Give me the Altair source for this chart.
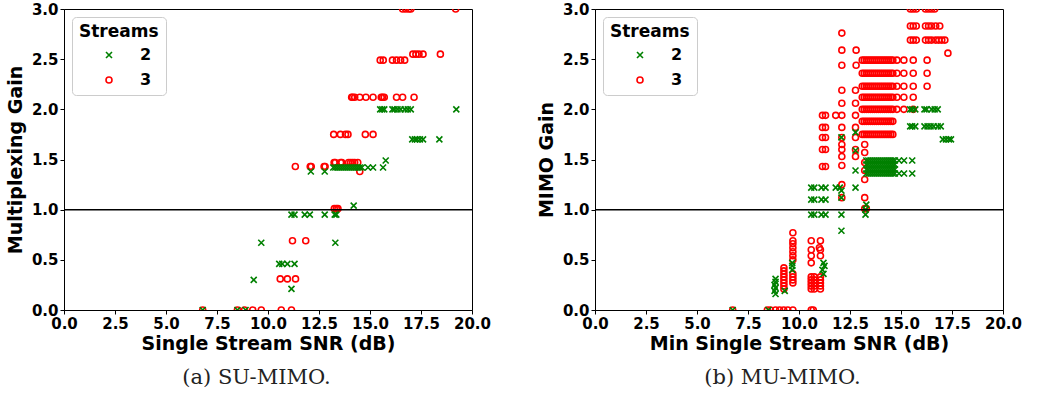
import altair as alt
import pandas as pd

# ---------------- data ----------------
x_ticks = [0.0, 2.5, 5.0, 7.5, 10.0, 12.5, 15.0, 17.5, 20.0]
y_ticks = [0.0, 0.5, 1.0, 1.5, 2.0, 2.5, 3.0]
hline = [1.0]
stream_names = ["2", "3"]
stream_colors = ["green", "red"]

# SU-MIMO, 2 streams: (gain, [SNR values])
su_2_rows = [
    (0.00, [6.8, 8.5, 8.9]),
    (0.21, [11.15]),
    (0.30, [9.3]),
    (0.46, [10.55, 10.7, 10.95, 11.3]),
    (0.67, [9.67, 13.3]),
    (0.95, [11.15, 11.3, 11.8, 12.05, 12.78, 13.27, 13.35]),
    (1.04, [14.2]),
    (1.38, [12.1, 12.78]),
    (1.42, [13.2, 13.3, 13.4, 13.5, 13.6, 13.7, 13.8, 13.9, 14.0, 14.1, 14.2,
            14.3, 14.4, 14.5, 14.6, 14.9, 15.15, 15.64]),
    (1.49, [15.77]),
    (1.70, [17.07, 17.2, 17.3, 17.45, 17.6, 18.4]),
    (2.00, [15.5, 15.6, 15.7, 16.1, 16.2, 16.35, 16.5, 16.7, 16.85, 17.0, 19.23]),
]

# SU-MIMO, 3 streams
su_3_rows = [
    (0.00, [6.8, 8.5, 8.85, 9.25, 9.67, 10.65, 11.15]),
    (0.31, [10.6, 10.95, 11.35]),
    (0.69, [11.2, 11.85]),
    (1.01, [13.25, 13.35, 13.43]),
    (1.38, [14.5]),
    (1.43, [11.34, 12.07, 12.12, 12.75, 12.8]),
    (1.47, [13.24, 13.3, 13.56, 13.62, 13.95, 14.05, 14.15, 14.25, 14.4]),
    (1.75, [13.22, 13.55, 13.8, 13.92, 14.77, 15.15]),
    (2.12, [14.1, 14.15, 14.25, 14.5, 14.8, 15.15, 15.55, 15.62, 15.7, 16.3, 16.6, 17.16]),
    (2.49, [15.5, 15.65, 16.1, 16.3, 16.5, 16.7]),
    (2.55, [17.1, 17.25, 17.4, 17.6, 18.45]),
    (3.00, [16.6, 16.75, 16.9, 17.0, 19.2]),
]

# MU-MIMO dense clusters
mu_green_block = [13.3, 13.4, 13.5, 13.6, 13.7, 13.8, 13.9, 14.0, 14.1, 14.2,
                  14.3, 14.4, 14.5, 14.6, 14.7]
mu_red_block = [13.1, 13.2, 13.3, 13.4, 13.5, 13.6, 13.7, 13.8, 13.9, 14.0,
                14.1, 14.2, 14.3, 14.4, 14.5, 14.6]

# MU-MIMO, 2 streams
mu_2_rows = [
    (0.00, [6.75, 8.5]),
    (0.16, [8.85]), (0.19, [8.8, 9.3]), (0.22, [8.85]), (0.25, [8.8]),
    (0.28, [8.85]), (0.31, [8.85]),
    (0.36, [11.2]), (0.40, [9.67, 11.15]), (0.44, [9.67, 11.25]), (0.47, [9.67, 11.2]),
    (0.79, [12.08]),
    (0.95, [10.6, 10.75, 11.1, 11.3, 12.08, 13.26]),
    (1.00, [13.26]), (1.05, [13.3]),
    (1.10, [10.6, 10.75, 11.1, 11.3]),
    (1.12, [12.08]),
    (1.19, [12.08]),
    (1.22, [10.6, 10.75, 11.1, 11.3, 11.8, 12.0, 12.77]),
    (1.36, mu_green_block + [14.9, 15.15, 15.55]),
    (1.39, [12.77]),
    (1.40, mu_green_block),
    (1.45, mu_green_block),
    (1.49, mu_green_block + [14.9, 15.15, 15.55]),
    (1.59, [12.77]),
    (1.70, [17.05, 17.2, 17.35, 17.45]),
    (1.72, [12.08]),
    (1.77, [12.77]),
    (1.83, [15.45, 15.55, 15.7, 16.15, 16.3, 16.45, 16.6, 16.8, 16.95]),
    (2.00, [15.45, 15.55, 15.7, 16.15, 16.25, 16.5, 16.65, 16.8]),
]

# MU-MIMO, 3 streams
mu_3_rows = [
    (0.00, [6.75, 8.45, 8.6, 8.85, 9.05, 9.25, 9.45, 9.7, 10.6, 10.7]),
    (0.21, [9.26, 10.6, 10.75, 11.05]),
    (0.24, [9.26, 10.6, 10.75, 11.05]),
    (0.27, [9.26, 9.7, 10.6, 10.75, 11.05]),
    (0.30, [9.26, 9.7, 10.6, 10.75, 11.05]),
    (0.33, [9.26, 9.7, 10.6, 10.75, 11.05]),
    (0.36, [9.26, 9.7]),
    (0.39, [9.26]),
    (0.42, [9.26]),
    (0.47, [10.6]),
    (0.50, [9.7]),
    (0.54, [9.7, 10.6, 11.05]),
    (0.58, [9.7]),
    (0.60, [10.6, 11.05]),
    (0.62, [9.7, 11.0]),
    (0.66, [9.7]),
    (0.69, [9.7, 10.6, 11.05]),
    (0.77, [9.7]),
    (1.01, [13.22, 13.3]),
    (1.12, [12.1, 13.22]),
    (1.25, [12.1]),
    (1.30, [13.22]),
    (1.39, [13.22]),
    (1.43, [11.15, 11.3]),
    (1.44, [12.1]),
    (1.47, [13.22]),
    (1.53, [12.1, 12.77]),
    (1.57, [13.22]),
    (1.60, [11.15, 11.3, 12.1, 12.77]),
    (1.65, [12.1, 13.22]),
    (1.72, [11.15, 11.3, 12.1, 12.77]),
    (1.75, mu_red_block),
    (1.82, [11.15, 11.3, 12.1, 12.77]),
    (1.88, mu_red_block),
    (1.94, [11.15, 11.3, 11.8, 12.1, 12.77]),
    (2.00, mu_red_block + [14.8, 15.14, 15.6]),
    (2.06, [12.1, 12.77]),
    (2.12, mu_red_block + [14.8, 15.14, 15.6]),
    (2.19, [12.1, 12.77]),
    (2.23, mu_red_block + [14.8, 15.14, 15.6, 16.28]),
    (2.36, mu_red_block + [14.8, 15.14, 15.6, 16.28]),
    (2.44, [12.1, 12.8]),
    (2.49, mu_red_block + [14.8, 15.14, 15.6, 16.28]),
    (2.56, [17.3]),
    (2.59, [12.1, 12.8]),
    (2.69, [15.46, 15.6, 15.75, 16.2, 16.35, 16.5, 16.7, 16.85, 17.0, 17.15]),
    (2.76, [12.1]),
    (2.83, [15.46, 15.6, 15.75, 16.2, 16.35, 16.5, 16.7, 16.9]),
    (3.00, [15.46, 15.6, 15.75, 16.2, 16.35, 16.5, 16.65]),
]


def build_df(rows2, rows3):
    recs = []
    for stream, rows in (("3", rows3), ("2", rows2)):
        for gain, snrs in rows:
            for s in snrs:
                recs.append({"streams": stream, "snr": s, "gain": gain})
    return pd.DataFrame(recs)


XPATH = "M-1,-1L1,1M-1,1L1,-1"


def panel(df, xtitle, ytitle, caption, cap_dx):
    leg = alt.Legend(
        title="Streams", orient="top-left", offset=8,
        fillColor="white", strokeColor="#cccccc", cornerRadius=4,
        padding=7, titleFont="DejaVu Sans", titleFontSize=17, titleFontWeight="bold",
        titleColor="black", titlePadding=6,
        labelFont="DejaVu Sans", labelFontSize=16, labelFontWeight="bold", labelColor="black",
        symbolOffset=22, labelOffset=23, rowPadding=9, symbolSize=36,
        symbolStrokeWidth=1.6, symbolFillColor="transparent",
    )
    axis_style = dict(
        labelFont="DejaVu Sans", labelFontWeight="bold", labelFontSize=15, labelColor="black",
        titleFont="DejaVu Sans", titleFontWeight="bold", titleFontSize=19, titleColor="black",
        domainColor="black", tickColor="black", tickSize=4, grid=False,
        labelPadding=2, format=".1f", labelOverlap=False, labelFlush=False, labelBound=False,
    )
    pts = alt.Chart(df).mark_point(filled=False, strokeWidth=1.6, size=36,
                                   clip=True, opacity=1).encode(
        x=alt.X("snr:Q", scale=alt.Scale(domain=[0, 20], nice=False, zero=False),
                axis=alt.Axis(title=xtitle, values=x_ticks, titlePadding=3, **axis_style)),
        y=alt.Y("gain:Q", scale=alt.Scale(domain=[0, 3], nice=False),
                axis=alt.Axis(title=ytitle, values=y_ticks, titlePadding=6, **axis_style)),
        color=alt.Color("streams:N", scale=alt.Scale(domain=stream_names, range=stream_colors),
                        legend=leg),
        shape=alt.Shape("streams:N", scale=alt.Scale(domain=stream_names, range=[XPATH, "circle"]),
                        legend=leg),
    )
    rule = alt.Chart(pd.DataFrame({"gain": hline})).mark_rule(
        color="black", strokeWidth=1.5).encode(y="gain:Q")
    return alt.layer(pts, rule).properties(
        width=408, height=301,
        title=alt.TitleParams(caption, orient="bottom", frame="bounds", anchor="middle",
                              font="DejaVu Serif", fontSize=21, fontWeight="normal",
                              offset=14, dx=cap_dx, color="#222222"),
    )


left = panel(build_df(su_2_rows, su_3_rows), "Single Stream SNR (dB)", "Multiplexing Gain",
             "(a) SU-MIMO.", 8)
right = panel(build_df(mu_2_rows, mu_3_rows), "Min Single Stream SNR (dB)", "MIMO Gain",
              "(b) MU-MIMO.", 3)

chart = alt.hconcat(left, right, spacing=44).resolve_scale(
    color="independent", shape="independent"
).resolve_legend(color="independent", shape="independent").properties(
    padding={"left": 5, "top": 1, "right": 5, "bottom": 0},
    background="white",
).configure_view(stroke="black", strokeWidth=1)

chart.save("out.html", embed_options={"renderer": "svg", "actions": False})
